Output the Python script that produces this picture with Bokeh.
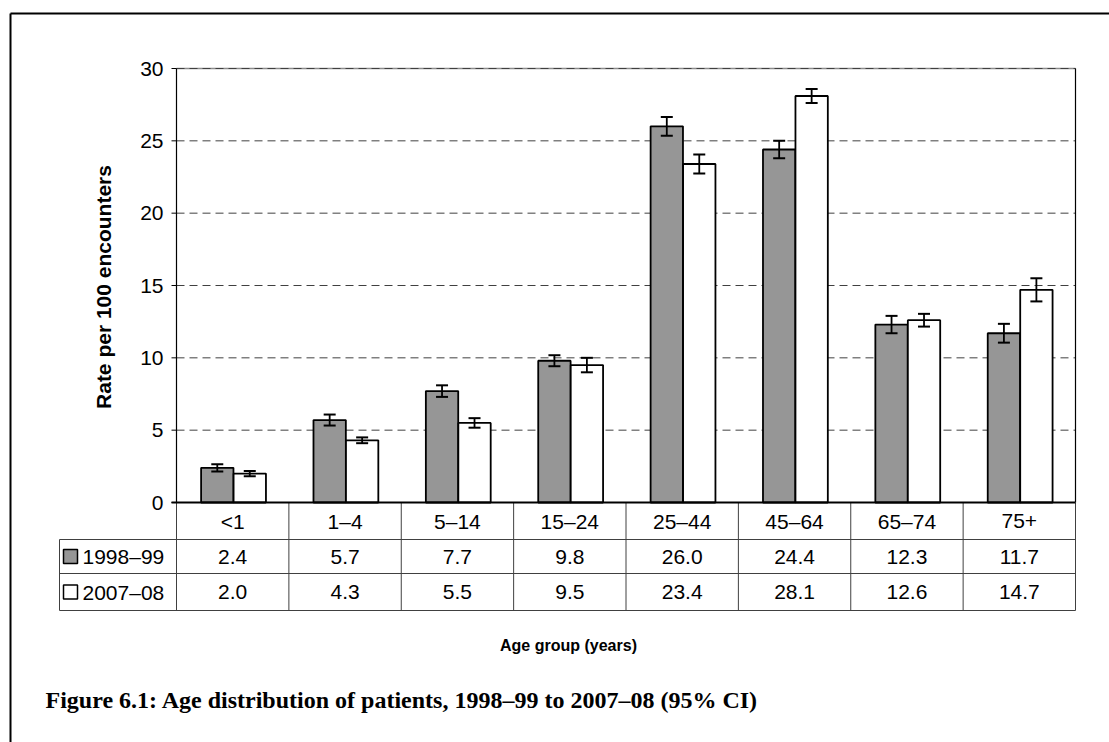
import math
from bokeh.plotting import figure
from bokeh.models import Range1d
from bokeh.core.properties import value
from bokeh.embed import file_html
from bokeh.resources import INLINE

# ---------------- data ----------------
categories = ["<1", "1–4", "5–14", "15–24", "25–44", "45–64", "65–74", "75+"]
series_names = ["1998–99", "2007–08"]
rate_1998 = [2.4, 5.7, 7.7, 9.8, 26.0, 24.4, 12.3, 11.7]
rate_2007 = [2.0, 4.3, 5.5, 9.5, 23.4, 28.1, 12.6, 14.7]
ci_1998 = [0.25, 0.38, 0.40, 0.38, 0.65, 0.60, 0.60, 0.65]
ci_2007 = [0.18, 0.20, 0.33, 0.50, 0.65, 0.48, 0.44, 0.80]
y_ticks = [0, 5, 10, 15, 20, 25, 30]
y_title = "Rate per 100 encounters"
x_title = "Age group (years)"
caption = "Figure 6.1: Age distribution of patients, 1998–99 to 2007–08 (95% CI)"

# ---------------- layout (canvas pixels) ----------------
W, H = 1109, 742
PL, PR, PT, PB = 176.0, 1075.0, 68.0, 502.0
Y_MAX = y_ticks[-1]
N = len(categories)
CW = (PR - PL) / N
PPU = (PB - PT) / Y_MAX
x0 = -0.5 - PL / CW
x1 = x0 + W / CW
y1 = PB / PPU
y0 = y1 - H / PPU


def X(px):
    return x0 + px / CW


def Y(py):
    return y1 - py / PPU


SANS = value("Liberation Sans")
SERIF = value("Liberation Serif")
GREY = "#969696"
LINE = "#404040"
FS = "21px"

p = figure(width=W, height=H, x_range=Range1d(x0, x1), y_range=Range1d(y0, y1),
           output_backend="svg", toolbar_location=None, title=None,
           x_axis_location=None, y_axis_location=None, min_border=0)
p.grid.grid_line_color = None
p.outline_line_color = None
p.background_fill_color = "white"
p.border_fill_color = "white"

idx = list(range(N))

# outer frame (left and top)
p.segment(x0=[X(10), X(10)], y0=[Y(13), Y(13)], x1=[X(W + 2), X(10)], y1=[Y(13), Y(H + 2)],
          line_color="black", line_width=2)

# gridlines
grid_vals = [t for t in y_ticks if 0 < t < Y_MAX]
p.segment(x0=[-0.5] * len(grid_vals), x1=[N - 0.5] * len(grid_vals),
          y0=grid_vals, y1=grid_vals, line_color=LINE, line_width=1, line_dash="8 5")
# top border of plot area
p.segment(x0=[-0.5], x1=[N - 0.5], y0=[Y_MAX], y1=[Y_MAX], line_color="#8c8c8c", line_width=1.5)
p.segment(x0=[-0.5], x1=[N - 0.5], y0=[Y_MAX], y1=[Y_MAX], line_color=LINE, line_width=1, line_dash="8 5")
# right border
p.segment(x0=[N - 0.5], x1=[N - 0.5], y0=[0], y1=[Y_MAX], line_color="black", line_width=1.2)

# bars
off = [-0.137, 0.152]
bw = 0.288
xs_a = [i + off[0] for i in idx]
xs_b = [i + off[1] for i in idx]
p.vbar(x=xs_a, top=rate_1998, bottom=0, width=bw, fill_color=GREY, line_color="black", line_width=1.8)
p.vbar(x=xs_b, top=rate_2007, bottom=0, width=bw, fill_color="white", line_color="black", line_width=1.8)

# error bars
cap = 6 / CW
for xs, v, c in ((xs_a, rate_1998, ci_1998), (xs_b, rate_2007, ci_2007)):
    lo = [a - b for a, b in zip(v, c)]
    hi = [a + b for a, b in zip(v, c)]
    p.segment(x0=xs, x1=xs, y0=lo, y1=hi, line_color="black", line_width=1.8)
    p.segment(x0=[x - cap for x in xs], x1=[x + cap for x in xs], y0=lo, y1=lo,
              line_color="black", line_width=2)
    p.segment(x0=[x - cap for x in xs], x1=[x + cap for x in xs], y0=hi, y1=hi,
              line_color="black", line_width=2)

# y axis line, ticks and labels
p.segment(x0=[-0.5], x1=[-0.5], y0=[0], y1=[Y_MAX], line_color="black", line_width=1.2)
tick_x0 = X(PL - 5)
p.segment(x0=[tick_x0] * len(y_ticks), x1=[-0.5] * len(y_ticks), y0=y_ticks, y1=y_ticks,
          line_color="black", line_width=1)
p.text(x=[X(PL - 13)] * len(y_ticks), y=y_ticks, text=[str(t) for t in y_ticks],
       text_align="right", text_baseline="middle", text_font=SANS,
       text_font_size=FS, text_color="black")

# table
row1_y, row2_y, row3_y = Y(539), Y(573), Y(610)
tbl_left = X(59)
bounds = [i - 0.5 for i in range(N + 1)]
p.segment(x0=bounds, x1=bounds, y0=[0] * len(bounds), y1=[row3_y] * len(bounds),
          line_color=LINE, line_width=1)
p.segment(x0=[tbl_left] * 3, x1=[N - 0.5] * 3, y0=[row1_y, row2_y, row3_y],
          y1=[row1_y, row2_y, row3_y], line_color=LINE, line_width=1)
p.segment(x0=[tbl_left], x1=[tbl_left], y0=[row1_y], y1=[row3_y], line_color=LINE, line_width=1)

# x axis (zero line)
p.segment(x0=[tick_x0], x1=[N - 0.5], y0=[0], y1=[0], line_color="black", line_width=2)

cy0 = (0 + row1_y) / 2
cy1 = (row1_y + row2_y) / 2
cy2 = (row2_y + row3_y) / 2
p.text(x=idx, y=[cy0] * N, text=categories, text_align="center", text_baseline="middle",
       text_font=SANS, text_font_size=FS, text_color="black")
p.text(x=idx, y=[cy1] * N, text=[f"{v:.1f}" for v in rate_1998], text_align="center",
       text_baseline="middle", text_font=SANS, text_font_size=FS, text_color="black")
p.text(x=idx, y=[cy2] * N, text=[f"{v:.1f}" for v in rate_2007], text_align="center",
       text_baseline="middle", text_font=SANS, text_font_size=FS, text_color="black")

# legend keys inside table
p.scatter(x=[X(70), X(70)], y=[cy1, cy2], marker="square", size=14,
          fill_color=[GREY, "white"], line_color="black", line_width=1.5)
p.text(x=[X(82), X(82)], y=[cy1, cy2], text=series_names, text_align="left",
       text_baseline="middle", text_font=SANS, text_font_size=FS, text_color="black")

# axis titles
p.text(x=[X(103)], y=[Y(286.5)], text=[y_title], angle=math.pi / 2, text_align="center",
       text_baseline="alphabetic", text_font=SANS, text_font_size="21px",
       text_font_style="bold", text_color="black")
p.text(x=[X(568)], y=[Y(645)], text=[x_title], text_align="center",
       text_baseline="alphabetic", text_font=SANS, text_font_size="16px",
       text_font_style="bold", text_color="black")

# caption
p.text(x=[X(45)], y=[Y(699)], text=[caption], text_align="left", text_baseline="alphabetic",
       text_font=SERIF, text_font_size="24px", text_font_style="bold", text_color="black")

open("out.html", "w").write(file_html(p, INLINE))
